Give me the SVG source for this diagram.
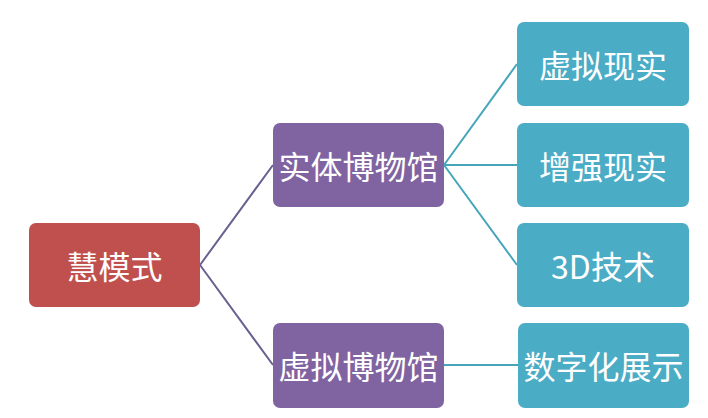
<svg xmlns="http://www.w3.org/2000/svg" width="708" height="418" viewBox="0 0 708 418">
<style>
.box{stroke:none}
.red{fill:#c0504d}
.pur{fill:#8064a2}
.teal{fill:#4bacc6}
.t{fill:#ffffff;font-family:"Noto Sans CJK SC","Liberation Sans",sans-serif;font-size:32px;text-anchor:middle;dominant-baseline:central}
.lp{stroke:#6a5f8f;stroke-width:2;fill:none}
.lt{stroke:#46a5bb;stroke-width:2;fill:none}
</style>
<rect width="708" height="418" fill="#ffffff"/>
<g id="connectors">
<path class="lp" d="M200 265 L273 165 M200 265 L273 365"/>
<path class="lt" d="M444 165 L517 64 M444 165 L517 165 M444 165 L517 265 M444 365 L518 365"/>
</g>
<g id="n-root"><rect class="box red" x="29" y="223" width="171" height="84" rx="7"/><text class="t" x="114.5" y="265">慧模式</text></g>
<g id="n-shiti"><rect class="box pur" x="273" y="123" width="171" height="84" rx="7"/><text class="t" x="358.5" y="165">实体博物馆</text></g>
<g id="n-xuni"><rect class="box pur" x="273" y="323" width="171" height="85" rx="7"/><text class="t" x="358.5" y="365">虚拟博物馆</text></g>
<g id="n-vr"><rect class="box teal" x="517" y="22" width="172" height="84" rx="7"/><text class="t" x="603" y="64">虚拟现实</text></g>
<g id="n-ar"><rect class="box teal" x="517" y="123" width="172" height="84" rx="7"/><text class="t" x="603" y="165">增强现实</text></g>
<g id="n-3d"><rect class="box teal" x="517" y="223" width="172" height="84" rx="7"/><text class="t" x="603" y="265">3D技术</text></g>
<g id="n-digital"><rect class="box teal" x="518" y="323" width="171" height="85" rx="7"/><text class="t" x="603.5" y="365">数字化展示</text></g>
</svg>
